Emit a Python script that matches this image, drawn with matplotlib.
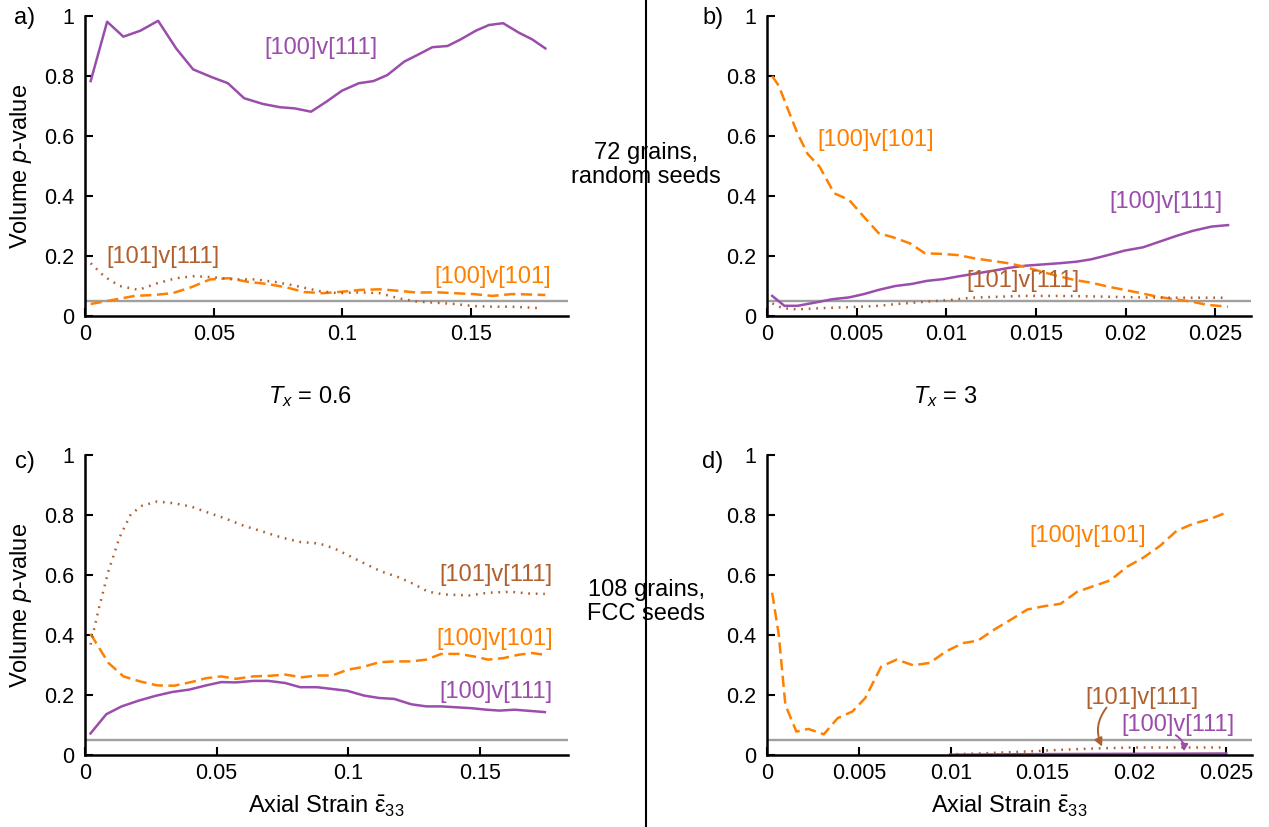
import numpy as np
from matplotlib import pyplot as plt
from matplotlib.ticker import FuncFormatter

plt.rcParams['font.family'] = ['Liberation Sans', 'DejaVu Sans']
plt.rcParams['mathtext.fontset'] = 'custom'
plt.rcParams['mathtext.rm'] = 'Liberation Sans'
plt.rcParams['mathtext.it'] = 'Liberation Sans:italic'

# panel a: 72 grains, random seeds, Tx = 0.6
a_x_111 = [0.0022, 0.0086, 0.0149, 0.0215, 0.0284, 0.0354, 0.042, 0.0493, 0.0555, 0.0618,
           0.069, 0.0757, 0.0815, 0.0878, 0.0937, 0.0998, 0.1064, 0.112, 0.1174, 0.124,
           0.1291, 0.1349, 0.1408, 0.1459, 0.1518, 0.1569, 0.1624, 0.1686, 0.1737, 0.1788]
a_p_100v111 = [0.783, 0.981, 0.931, 0.951, 0.984, 0.892, 0.822, 0.796, 0.776, 0.726,
               0.707, 0.696, 0.692, 0.681, 0.714, 0.751, 0.776, 0.783, 0.803, 0.848,
               0.870, 0.896, 0.900, 0.922, 0.951, 0.970, 0.976, 0.944, 0.922, 0.892]
a_x_101 = [0.0022, 0.0105, 0.0193, 0.0266, 0.034, 0.0413, 0.0486, 0.056, 0.0632, 0.0705,
           0.078, 0.085, 0.0925, 0.0998, 0.107, 0.1144, 0.1218, 0.129, 0.1365, 0.1437,
           0.151, 0.1583, 0.1657, 0.1715, 0.1788]
a_p_100v101 = [0.040, 0.053, 0.067, 0.070, 0.076, 0.096, 0.122, 0.126, 0.114, 0.107,
               0.096, 0.080, 0.076, 0.081, 0.087, 0.089, 0.084, 0.078, 0.079, 0.076,
               0.073, 0.067, 0.073, 0.072, 0.070]
a_x_101v111 = [0.0022, 0.0076, 0.0135, 0.0208, 0.028, 0.0354, 0.0427, 0.05, 0.0574, 0.066,
               0.0735, 0.0822, 0.091, 0.0983, 0.107, 0.1144, 0.1218, 0.129, 0.1365, 0.1437,
               0.151, 0.1583, 0.1657, 0.1773]
a_p_101v111 = [0.176, 0.131, 0.100, 0.087, 0.109, 0.126, 0.133, 0.129, 0.122, 0.122,
               0.114, 0.100, 0.083, 0.076, 0.079, 0.076, 0.059, 0.048, 0.044, 0.040,
               0.033, 0.031, 0.031, 0.026]

# panel b: 72 grains, random seeds, Tx = 3
b_x_100v101 = [0.00029, 0.00066, 0.00118, 0.0017, 0.00227, 0.00293, 0.00375, 0.00458, 0.0054, 0.00623,
               0.00705, 0.00798, 0.00881, 0.00974, 0.01066, 0.01159, 0.01252, 0.01345, 0.01438, 0.0153,
               0.01623, 0.01716, 0.01809, 0.01902, 0.01995, 0.02087, 0.0218, 0.02273, 0.02366, 0.02459, 0.02572]
b_p_100v101 = [0.80, 0.767, 0.687, 0.609, 0.540, 0.498, 0.409, 0.387, 0.331, 0.276,
               0.262, 0.242, 0.209, 0.207, 0.203, 0.192, 0.184, 0.176, 0.164, 0.148,
               0.133, 0.120, 0.111, 0.098, 0.087, 0.076, 0.064, 0.056, 0.048, 0.037, 0.031]
b_x_100v111 = [0.00029, 0.00097, 0.0017, 0.00262, 0.00365, 0.00458, 0.0054, 0.00623, 0.00716, 0.00809,
               0.00891, 0.00984, 0.01077, 0.0117, 0.01262, 0.01355, 0.01448, 0.01541, 0.01634, 0.01726,
               0.01809, 0.01902, 0.01995, 0.02098, 0.02191, 0.02284, 0.02376, 0.02479, 0.02572]
b_p_100v111 = [0.067, 0.034, 0.034, 0.044, 0.056, 0.062, 0.073, 0.087, 0.100, 0.107,
               0.117, 0.123, 0.133, 0.142, 0.151, 0.161, 0.168, 0.172, 0.176, 0.181,
               0.189, 0.203, 0.218, 0.229, 0.248, 0.267, 0.284, 0.298, 0.303]
b_x_101v111 = [0.0003, 0.00087, 0.0017, 0.00293, 0.00437, 0.00602, 0.00726, 0.00891, 0.01015, 0.01139,
               0.01283, 0.01427, 0.01592, 0.01757, 0.01922, 0.02087, 0.02252, 0.02418, 0.02572]
b_p_101v111 = [0.042, 0.026, 0.022, 0.026, 0.029, 0.033, 0.040, 0.048, 0.053, 0.061,
               0.064, 0.067, 0.067, 0.066, 0.064, 0.062, 0.061, 0.061, 0.061]

# panel c: 108 grains, FCC seeds, Tx = 0.6
c_x = [0.0021, 0.0081, 0.0139, 0.0203, 0.0267, 0.0331, 0.0396, 0.046, 0.0517, 0.0574,
       0.0639, 0.0696, 0.076, 0.0817, 0.0881, 0.0939, 0.0996, 0.106, 0.1117, 0.1174,
       0.1239, 0.1296, 0.1353, 0.141, 0.1467, 0.1524, 0.1574, 0.1631, 0.1689, 0.1746]
c_p_100v111 = [0.072, 0.136, 0.162, 0.181, 0.197, 0.210, 0.218, 0.232, 0.243, 0.242,
               0.247, 0.247, 0.240, 0.226, 0.226, 0.220, 0.214, 0.198, 0.190, 0.187,
               0.169, 0.162, 0.162, 0.159, 0.156, 0.151, 0.148, 0.151, 0.147, 0.143]
c_x_100v101 = [0.0021, 0.0046, 0.0089, 0.0146, 0.021, 0.0274, 0.0339, 0.0403, 0.046, 0.0517,
               0.0574, 0.0639, 0.0703, 0.076, 0.0824, 0.0881, 0.0939, 0.0996, 0.1053, 0.1117,
               0.1174, 0.1239, 0.1296, 0.1353, 0.1417, 0.1474, 0.1531, 0.1589, 0.1646, 0.1696, 0.1746]
c_p_100v101 = [0.404, 0.368, 0.307, 0.262, 0.245, 0.232, 0.231, 0.243, 0.256, 0.262,
               0.254, 0.262, 0.264, 0.268, 0.259, 0.265, 0.265, 0.284, 0.293, 0.309,
               0.312, 0.312, 0.318, 0.337, 0.337, 0.329, 0.318, 0.323, 0.334, 0.340, 0.334]
c_x_101v111 = [0.0021, 0.0053, 0.0089, 0.0131, 0.0174, 0.0217, 0.0274, 0.0339, 0.0403, 0.0467,
               0.0531, 0.0603, 0.0674, 0.0746, 0.0817, 0.0889, 0.0946, 0.1003, 0.1067, 0.1124,
               0.1189, 0.1246, 0.1303, 0.1367, 0.146, 0.1531, 0.1617, 0.1689, 0.1746]
c_p_101v111 = [0.368, 0.490, 0.613, 0.725, 0.803, 0.831, 0.845, 0.839, 0.828, 0.808,
               0.789, 0.764, 0.745, 0.725, 0.710, 0.705, 0.689, 0.664, 0.636, 0.612,
               0.593, 0.571, 0.544, 0.535, 0.532, 0.541, 0.544, 0.538, 0.537]

# panel d: 108 grains, FCC seeds, Tx = 3
d_x_100v101 = [0.00028, 0.00064, 0.001, 0.0016, 0.00225, 0.00309, 0.00385, 0.00465, 0.00535, 0.00622,
               0.00706, 0.00796, 0.00886, 0.00976, 0.01067, 0.01147, 0.01237, 0.01327, 0.01417, 0.01508,
               0.01598, 0.01688, 0.01778, 0.01868, 0.01959, 0.02049, 0.02139, 0.02229, 0.0232, 0.0241, 0.025]
d_p_100v101 = [0.541, 0.401, 0.167, 0.078, 0.087, 0.069, 0.123, 0.145, 0.190, 0.295,
               0.318, 0.299, 0.307, 0.346, 0.373, 0.381, 0.418, 0.451, 0.485, 0.496,
               0.504, 0.544, 0.563, 0.582, 0.627, 0.658, 0.697, 0.747, 0.771, 0.786, 0.808]
d_x_101v111 = [0.0099, 0.0119, 0.0139, 0.0159, 0.0179, 0.0199, 0.0219, 0.025]
d_p_101v111 = [0.002, 0.006, 0.011, 0.017, 0.022, 0.025, 0.025, 0.025]
d_x_100v111 = [0.010, 0.015, 0.020, 0.025]
d_p_100v111 = [0.001, 0.003, 0.004, 0.005]

purple = '#9b4dab'
orange = '#ff8000'
brown = '#b0602f'
grey = '#a0a0a0'

fig = plt.figure(figsize=(12.69, 8.27), dpi=100)

W, H = 1269.0, 827.0
ax_a = fig.add_axes([85 / W, 1 - 316 / H, 483 / W, 300 / H])
ax_b = fig.add_axes([767 / W, 1 - 316 / H, 484 / W, 300 / H])
ax_c = fig.add_axes([85 / W, 1 - 755 / H, 483 / W, 300 / H])
ax_d = fig.add_axes([767 / W, 1 - 755 / H, 485 / W, 300 / H])

fmt = FuncFormatter(lambda v, pos: '%g' % round(v, 6))

for ax, xmax, xticks in [(ax_a, 0.1876, [0, 0.05, 0.1, 0.15]),
                         (ax_b, 0.0270, [0, 0.005, 0.01, 0.015, 0.02, 0.025]),
                         (ax_c, 0.1834, [0, 0.05, 0.1, 0.15]),
                         (ax_d, 0.0264, [0, 0.005, 0.01, 0.015, 0.02, 0.025])]:
    ax.set_xlim(0, xmax)
    ax.set_ylim(0, 1)
    ax.set_xticks(xticks)
    ax.set_yticks([0, 0.2, 0.4, 0.6, 0.8, 1])
    ax.xaxis.set_major_formatter(fmt)
    ax.yaxis.set_major_formatter(fmt)
    ax.spines['top'].set_visible(False)
    ax.spines['right'].set_visible(False)
    ax.spines['left'].set_linewidth(1.8)
    ax.spines['bottom'].set_linewidth(1.8)
    ax.tick_params(direction='in', length=6, width=1.5, labelsize=15.5)
    ax.tick_params(axis='y', pad=8)
    ax.tick_params(axis='x', pad=6)
    ax.axhline(0.05, color=grey, lw=1.7, zorder=1)
    ax.patch.set_visible(False)

solid = dict(color=purple, lw=1.8, ls='-')
dashed = dict(color=orange, lw=1.8, ls=(0, (4.5, 2.2)))
dotted = dict(color=brown, lw=1.8, ls=(0, (0.7, 2.3)))
fs = 17

# a
ax_a.plot(a_x_111, a_p_100v111, **solid)
ax_a.plot(a_x_101, a_p_100v101, **dashed)
ax_a.plot(a_x_101v111, a_p_101v111, **dotted)
ax_a.text(0.0918, 0.893, '[100]v[111]', color=purple, fontsize=fs, ha='center', va='center')
ax_a.text(0.0302, 0.196, '[101]v[111]', color=brown, fontsize=fs, ha='center', va='center')
ax_a.text(0.1584, 0.131, '[100]v[101]', color=orange, fontsize=fs, ha='center', va='center')

# b
ax_b.plot(b_x_100v111, b_p_100v111, **solid)
ax_b.plot(b_x_100v101, b_p_100v101, **dashed)
ax_b.plot(b_x_101v111, b_p_101v111, **dotted)
ax_b.text(0.00606, 0.587, '[100]v[101]', color=orange, fontsize=fs, ha='center', va='center')
ax_b.text(0.02228, 0.381, '[100]v[111]', color=purple, fontsize=fs, ha='center', va='center')
ax_b.text(0.01427, 0.118, '[101]v[111]', color=brown, fontsize=fs, ha='center', va='center')

# c
ax_c.plot(c_x, c_p_100v111, **solid)
ax_c.plot(c_x_100v101, c_p_100v101, **dashed)
ax_c.plot(c_x_101v111, c_p_101v111, **dotted)
ax_c.text(0.156, 0.60, '[101]v[111]', color=brown, fontsize=fs, ha='center', va='center')
ax_c.text(0.1555, 0.388, '[100]v[101]', color=orange, fontsize=fs, ha='center', va='center')
ax_c.text(0.156, 0.21, '[100]v[111]', color=purple, fontsize=fs, ha='center', va='center')

# d
ax_d.plot(d_x_100v111, d_p_100v111, **solid)
ax_d.plot(d_x_100v101, d_p_100v101, **dashed)
ax_d.plot(d_x_101v111, d_p_101v111, **dotted)
ax_d.text(0.01746, 0.73, '[100]v[101]', color=orange, fontsize=fs, ha='center', va='center')
ax_d.text(0.02039, 0.19, '[101]v[111]', color=brown, fontsize=fs, ha='center', va='center')
ax_d.text(0.02237, 0.10, '[100]v[111]', color=purple, fontsize=fs, ha='center', va='center')
ax_d.annotate('', xy=(0.01824, 0.028), xytext=(0.01848, 0.158),
              arrowprops=dict(arrowstyle='-|>', color=brown, lw=1.4, mutation_scale=12,
                              connectionstyle='arc3,rad=0.3', shrinkA=0, shrinkB=0))
ax_d.annotate('', xy=(0.02269, 0.012), xytext=(0.02225, 0.066),
              arrowprops=dict(arrowstyle='-|>', color=purple, lw=1.4, mutation_scale=10,
                              connectionstyle='arc3,rad=-0.3', shrinkA=0, shrinkB=0))

for ax in (ax_a, ax_c):
    ax.set_ylabel('Volume $p$-value', fontsize=fs, labelpad=7)
for ax in (ax_c, ax_d):
    ax.set_xlabel(r'Axial Strain $\mathregular{\bar{\varepsilon}_{33}}$', fontsize=fs, labelpad=7)

for lab, x, y in [('a)', 25, 18), ('b)', 713, 18), ('c)', 25, 462), ('d)', 713, 462)]:
    fig.text(x / W, 1 - y / H, lab, fontsize=fs, ha='center', va='center')

fig.add_artist(plt.Line2D([646 / W, 646 / W], [0, 1], color='black', lw=1.5,
                          transform=fig.transFigure))
fig.text(646 / W, 1 - 165 / H, '72 grains,\nrandom seeds', fontsize=fs, ha='center',
         va='center', linespacing=1.1)
fig.text(646 / W, 1 - 602 / H, '108 grains,\nFCC seeds', fontsize=fs, ha='center',
         va='center', linespacing=1.1)
fig.text(310 / W, 1 - 397 / H, '$T_x$ = 0.6', fontsize=fs, ha='center', va='center')
fig.text(945 / W, 1 - 397 / H, '$T_x$ = 3', fontsize=fs, ha='center', va='center')

fig.savefig('out.png', dpi=100)
